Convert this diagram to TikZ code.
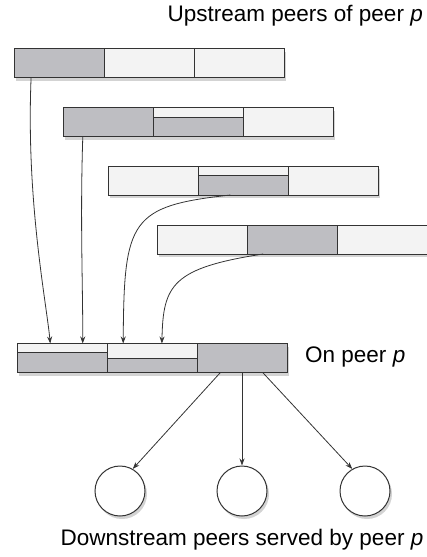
\documentclass[tikz,border=0pt]{standalone}
\usepackage{fontspec}
\setmainfont{Liberation Sans}
\usetikzlibrary{positioning,shadows,arrows.meta,calc}

\definecolor{chunkgray}{RGB}{190,190,194}
\definecolor{chunklight}{RGB}{243,243,243}

\tikzset{
  cell/.style={draw=black!80, line width=1pt, minimum width=90pt, minimum height=29pt,
    inner sep=0pt, outer sep=0pt},
  held/.style={cell, fill=chunkgray, drop shadow={shadow xshift=2pt, shadow yshift=-3pt, opacity=0.35}},
  empty/.style={cell, fill=chunklight, drop shadow={shadow xshift=2pt, shadow yshift=-3pt, opacity=0.35}},
  toppart/.style={cell, fill=chunklight, anchor=north},
  peer/.style={circle, draw=black!80, line width=1pt, fill=white, minimum size=50pt,
    drop shadow={shadow xshift=2pt, shadow yshift=-3pt, opacity=0.35}},
  link/.style={-{Stealth[length=7pt,width=5pt]}, black!80, line width=0.8pt},
  lbl/.style={font=\fontsize{22.5}{26}\selectfont, inner sep=0pt}
}

\begin{document}
\begin{tikzpicture}[x=1pt,y=-1pt]
	\useasboundingbox (0,0) rectangle (426,557);

	% upstream buffers
	\node[held] (u1a) at (59,63) {};
	\node[empty, right=0pt of u1a] (u1b) {};
	\node[empty, right=0pt of u1b] (u1c) {};

	\node[held] (u2a) at (108,122) {};
	\node[held, right=0pt of u2a] (u2b) {};
	\node[empty, right=0pt of u2b] (u2c) {};
	\node[toppart, minimum height=10pt] (u2t) at (u2b.north) {};

	\node[empty] (u3a) at (153,180.5) {};
	\node[held, right=0pt of u3a] (u3b) {};
	\node[empty, right=0pt of u3b] (u3c) {};
	\node[toppart, minimum height=9pt] (u3t) at (u3b.north) {};

	\node[empty] (u4a) at (202,239.5) {};
	\node[held, right=0pt of u4a] (u4b) {};
	\node[empty, right=0pt of u4b] (u4c) {};

	% buffer of peer p
	\node[held] (d1) at (62,358) {};
	\node[held, right=0pt of d1] (d2) {};
	\node[held, right=0pt of d2] (d3) {};
	\node[toppart, minimum height=9pt] (d1t) at (d1.north) {};
	\node[toppart, minimum height=15pt] (d2t) at (d2.north) {};

	% downstream peers
	\node[peer] (c1) at (120,491) {};
	\node[peer] (c2) at (242,491) {};
	\node[peer] (c3) at (365,491) {};

	% labels
	\node[lbl, anchor=east] (up) at (423,16) {Upstream peers of peer \textit{p}};
	\node[lbl, anchor=west] (on) at (305,357) {On peer \textit{p}};
	\node[lbl] (down) at (242,540) {Downstream peers served by peer \textit{p}};

	% chunks pulled in
	\draw[link] ($(u1a.south west)!0.19!(u1a.south east)$) .. controls (26,200) and (46,300) .. ($(d1t.north west)!0.37!(d1t.north east)$);
	\draw[link] ($(u2a.south west)!0.22!(u2a.south east)$) .. controls (80,220) and (83,290) .. ($(d1t.north west)!0.73!(d1t.north east)$);
	\draw[link] ($(u3b.south west)!0.36!(u3b.south east)$) .. controls (130,206) and (124,220) .. ($(d2t.north west)!0.18!(d2t.north east)$);
	\draw[link] ($(u4b.south west)!0.18!(u4b.south east)$) .. controls (172,268) and (163,285) .. ($(d2t.north west)!0.61!(d2t.north east)$);

	% chunks served
	\draw[link] ($(d3.south west)!0.26!(d3.south east)$) -- (c1.60);
	\draw[link] (d3.south) -- (c2.north);
	\draw[link] ($(d3.south west)!0.73!(d3.south east)$) -- (c3.120);

\end{tikzpicture}
\end{document}
